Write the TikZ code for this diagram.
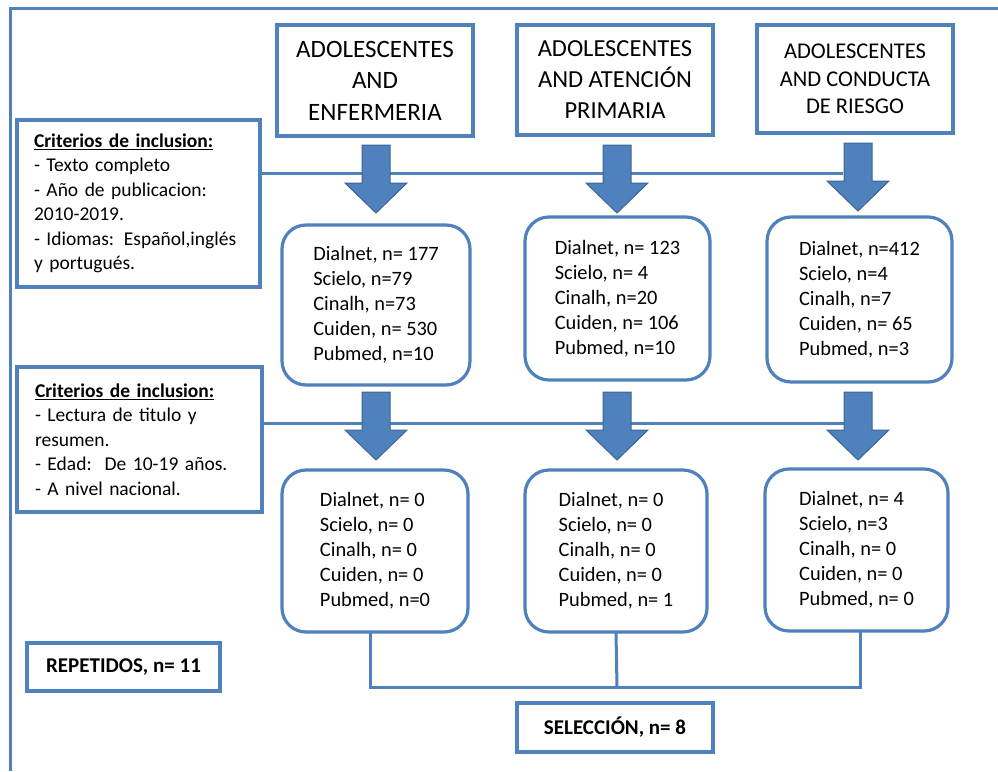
\documentclass[tikz,border=0pt]{standalone}
\usepackage{fontspec}
\setmainfont{Carlito}
\definecolor{boxblue}{RGB}{79,129,189}
\definecolor{arrowfill}{RGB}{79,129,189}
\definecolor{arrowline}{RGB}{60,100,150}
\begin{document}
\begin{tikzpicture}[x=1pt,y=-1pt,
  every node/.style={inner sep=0pt, outer sep=0pt},
  frameline/.style={draw=boxblue, line width=3pt},
  sqbox/.style={draw=boxblue, line width=3.2pt, fill=white, align=center},
  rbox/.style={draw=boxblue, line width=3.2pt, rounded corners=24pt, fill=white, align=left,
    font=\fontsize{20.4}{25}\selectfont},
  critbox/.style={draw=boxblue, line width=3.2pt, fill=white, align=left, text width=209pt,
    inner xsep=17pt, font=\fontsize{19.5}{24.5}\selectfont},
  conn/.style={draw=boxblue, line width=3pt},
  blockarrow/.pic={\filldraw[fill=arrowfill, draw=arrowline, line width=1pt, line join=miter]
    (-14,0) -- (-14,38) -- (-31,38) -- (0,68) -- (31,38) -- (14,38) -- (14,0) -- cycle;}
]
\useasboundingbox (0,0) rectangle (998,771);
\fill[white] (0,0) rectangle (998,771);
% outer frame (left and top only)
\draw[frameline] (10,771) -- (10,8) -- (998,8);

% top boxes
\node[sqbox, minimum width=196pt, minimum height=111pt, font=\fontsize{25}{31.5}\selectfont]
  (t1) at (375,80.5) {ADOLESCENTES\\AND\\ENFERMERIA};
\node[sqbox, minimum width=196pt, minimum height=110pt, font=\fontsize{24.5}{31}\selectfont]
  (t2) at (615,80) {ADOLESCENTES\\AND ATENCIÓN\\PRIMARIA};
\node[sqbox, minimum width=196pt, minimum height=108pt, font=\fontsize{22.5}{27.5}\selectfont]
  (t3) at (855,79) {ADOLESCENTES\\AND CONDUCTA\\DE RIESGO};

% criteria boxes
\node[critbox, minimum width=243pt, minimum height=167pt] (c1) at (138.5,203.5)
  {\underline{\textbf{Criterios de inclusion:}}\\
   - Texto completo\\
   - Año de publicacion:\\
   2010-2019.\\
   - Idiomas: Español,inglés\\
   y portugués.};
\node[critbox, minimum width=245pt, minimum height=145pt] (c2) at (139.5,439.5)
  {\underline{\textbf{Criterios de inclusion:}}\\
   - Lectura de titulo y\\
   resumen.\\
   - Edad:\ \ De 10-19 años.\\
   - A nivel nacional.\\[5pt]};

% horizontal criteria lines
\coordinate (l1) at (843,173);
\coordinate (l2) at (845,423);
\draw[conn] (c1.east |- l1) -- (l1);
\draw[conn] (c2.east |- l2) -- (l2);

% first result boxes
\node[rbox, minimum width=188pt, minimum height=160pt] (a1) at (376,305)
  {Dialnet, n= 177\\Scielo, n=79\\Cinalh, n=73\\Cuiden, n= 530\\Pubmed, n=10};
\node[rbox, minimum width=185pt, minimum height=163pt] (b1) at (617.5,298.5)
  {Dialnet, n= 123\\Scielo, n= 4\\Cinalh, n=20\\Cuiden, n= 106\\Pubmed, n=10};
\node[rbox, minimum width=185pt, minimum height=165pt] (d1) at (859.5,299.5)
  {Dialnet, n=412\\Scielo, n=4\\Cinalh, n=7\\Cuiden, n= 65\\Pubmed, n=3};

% second result boxes
\node[rbox, minimum width=186pt, minimum height=162pt] (a2) at (375,551)
  {Dialnet, n= 0\\Scielo, n= 0\\Cinalh, n= 0\\Cuiden, n= 0\\Pubmed, n=0};
\node[rbox, minimum width=182pt, minimum height=162pt] (b2) at (616,551)
  {Dialnet, n= 0\\Scielo, n= 0\\Cinalh, n= 0\\Cuiden, n= 0\\Pubmed, n= 1};
\node[rbox, minimum width=183pt, minimum height=162pt] (d2) at (856.5,550)
  {Dialnet, n= 4\\Scielo, n=3\\Cinalh, n= 0\\Cuiden, n= 0\\Pubmed, n= 0};

% block arrows
\pic at (376,145) {blockarrow};
\pic at (617,145) {blockarrow};
\pic at (858,143) {blockarrow};
\pic at (376,392) {blockarrow};
\pic at (617,392) {blockarrow};
\pic at (858,392) {blockarrow};

% bracket joining the final boxes
\coordinate (br) at (617,687);
\draw[conn] (a2.south -| 370,0) |- (br);
\draw[conn] (b2.south) -- (br);
\draw[conn] (d2.south -| 860,0) |- (br);

% bottom boxes
\node[sqbox, minimum width=193pt, minimum height=48pt, font=\fontsize{21}{24}\selectfont\bfseries]
  (rep) at (123.5,667) {REPETIDOS, n= 11};
\node[sqbox, minimum width=196pt, minimum height=49pt, font=\fontsize{21}{24}\selectfont\bfseries]
  (sel) at (615,727.5) {SELECCIÓN, n= 8};
\end{tikzpicture}
\end{document}
